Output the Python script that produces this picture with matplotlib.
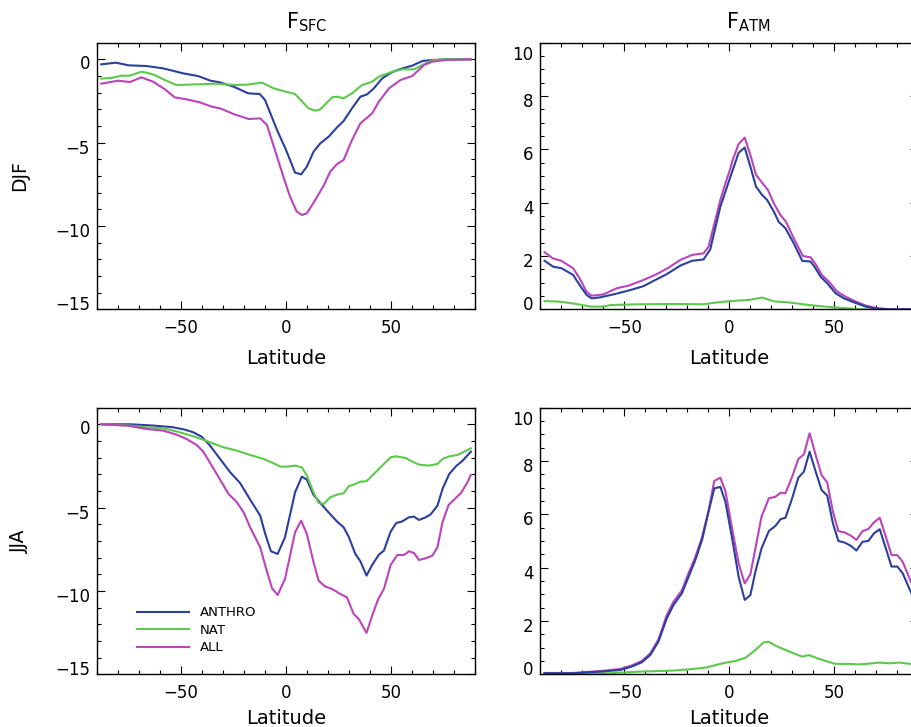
import matplotlib
matplotlib.use("Agg")
import matplotlib.pyplot as plt
import matplotlib.transforms as mtransforms
from matplotlib.ticker import MultipleLocator

plt.rcParams['font.family'] = ['DejaVu Sans']
plt.rcParams['mathtext.default'] = 'regular'

# colours of the three runs
c_anthro = '#2b3f9e'
c_nat = '#5cc94c'
c_all = '#bb44bb'

# ---- DJF, F_SFC ----
djf_sfc_anthro_lat = [-88, -81, -75, -66.5, -58.5, -49, -42, -36, -31.5, -25, -18, -12.5, -10, -4.3, 0, 4.3, 7.2, 9.9,
                      13.1, 16.3, 20.3, 24.3, 27.4, 31.4, 35.4, 38.6, 41.8, 45.8, 50.6, 55.4, 60.1, 64.9, 69.7, 76, 88]
djf_sfc_anthro = [-0.3, -0.2, -0.36, -0.4, -0.54, -0.84, -1.0, -1.28, -1.38, -1.64, -2.04, -2.08, -2.44, -4.24, -5.44,
                  -6.8, -6.9, -6.44, -5.54, -5.04, -4.64, -4.08, -3.7, -2.94, -2.24, -2.1, -1.74, -1.14, -0.76, -0.54,
                  -0.38, -0.1, -0.04, 0, 0]
djf_sfc_nat_lat = [-88, -82.5, -78.5, -74.3, -68.9, -63.3, -57.7, -52.2, -42.6, -33, -25, -18.7, -11.5, -5.9, 0.5, 4.3,
                   10.7, 13.9, 16.3, 21.9, 24.3, 27.4, 31.4, 36.2, 41, 44.2, 50.6, 55.4, 60.9, 64.9, 69.7, 76, 88]
djf_sfc_nat = [-1.16, -1.1, -0.98, -0.98, -0.74, -0.9, -1.24, -1.54, -1.5, -1.46, -1.54, -1.52, -1.4, -1.74, -1.96,
               -2.08, -2.94, -3.08, -3.0, -2.28, -2.24, -2.34, -2.04, -1.54, -1.34, -1.04, -0.74, -0.6, -0.6, -0.34,
               -0.06, 0, 0]
djf_sfc_all_lat = [-88, -80, -74.3, -68.9, -63.3, -57.7, -53, -47.4, -41, -35.4, -31.4, -25, -17.8, -12.3, -9.1, -4.3,
                   -0.5, 1.9, 5.1, 7.6, 9.9, 13.9, 17.9, 21, 24.3, 27.4, 31.4, 35.4, 41, 44.2, 49, 54.5, 60.1, 65.7,
                   69.7, 76, 88]
djf_sfc_all = [-1.46, -1.28, -1.36, -1.08, -1.34, -1.8, -2.28, -2.4, -2.58, -2.84, -2.94, -3.28, -3.58, -3.54, -3.94,
               -5.84, -7.34, -8.24, -9.14, -9.34, -9.24, -8.44, -7.58, -6.74, -6.28, -6.04, -4.84, -3.84, -3.24, -2.54,
               -1.74, -1.24, -1.0, -0.34, -0.14, -0.04, 0]

# ---- DJF, F_ATM ----
djf_atm_anthro_lat = [-88, -83.9, -79.9, -74.4, -71.3, -68, -65.6, -61.6, -55.2, -47.3, -40.9, -35.3, -29.8, -23.4,
                      -17.8, -12.3, -9.1, -4.3, -1.9, 0.5, 1.3, 4.4, 7.3, 10, 12.7, 15.6, 18, 21.2, 23.5, 26.7, 30.7,
                      34.7, 38.7, 40.5, 43.5, 46.7, 50.6, 54.6, 59.4, 65, 69.8, 76, 88]
djf_atm_anthro = [1.82, 1.6, 1.54, 1.29, 0.91, 0.54, 0.41, 0.45, 0.56, 0.72, 0.87, 1.1, 1.32, 1.64, 1.82, 1.87, 2.25,
                  3.85, 4.41, 4.97, 5.16, 5.87, 6.07, 5.35, 4.6, 4.29, 4.1, 3.66, 3.28, 3.04, 2.47, 1.82, 1.79, 1.6,
                  1.22, 0.97, 0.6, 0.41, 0.26, 0.1, 0.03, 0, 0]
djf_atm_nat_lat = [-88, -81, -74.4, -65.6, -60, -56.8, -42.6, -26.6, -12.3, -6, 0.5, 9, 15.6, 21.2, 28.3, 38, 46, 54,
                   62, 88]
djf_atm_nat = [0.31, 0.29, 0.22, 0.1, 0.1, 0.16, 0.19, 0.2, 0.19, 0.26, 0.31, 0.35, 0.44, 0.3, 0.26, 0.16, 0.1, 0.05,
               0, 0]
djf_atm_all_lat = [-88, -84, -80, -74.4, -71.3, -68, -65.6, -60, -53.6, -48, -40.9, -34.6, -29, -23.4, -17.8, -12.3,
                   -9.9, -4.3, -1.9, 0.5, 1.3, 4.4, 7.3, 10, 12.7, 15.6, 18.4, 21.2, 24.3, 27, 30.7, 35, 38.7, 41, 44,
                   47.4, 51.4, 55.4, 60, 65, 69.8, 76, 88]
djf_atm_all = [2.14, 1.91, 1.82, 1.54, 1.16, 0.66, 0.51, 0.56, 0.79, 0.89, 1.1, 1.32, 1.56, 1.85, 2.04, 2.1, 2.35, 4.1,
               4.72, 5.29, 5.54, 6.2, 6.44, 5.79, 5.04, 4.75, 4.47, 3.97, 3.54, 3.28, 2.66, 2.0, 1.95, 1.7, 1.29,
               1.04, 0.66, 0.47, 0.3, 0.14, 0.05, 0, 0]

# ---- JJA, F_SFC ----
jja_sfc_anthro_lat = [-88, -74, -62.7, -53.7, -48.2, -44.2, -40.2, -36.2, -31.4, -26.6, -21.9, -17.1, -12.3, -9.9,
                      -7.2, -4, -0.5, 4.3, 7.5, 9.9, 13.1, 16.3, 19.5, 24.3, 27.4, 29.8, 33, 35.4, 38.3, 41, 44.2,
                      46.6, 49.8, 52.5, 55.1, 58.5, 60.9, 63.3, 66.5, 68.9, 72.1, 74.5, 77.7, 80.9, 84.1, 88]
jja_sfc_anthro = [0, 0, -0.08, -0.18, -0.32, -0.48, -0.74, -1.28, -2.08, -2.88, -3.52, -4.52, -5.48, -6.58, -7.62,
                  -7.78, -6.78, -4.08, -3.14, -3.32, -4.24, -4.72, -5.18, -5.84, -6.18, -6.74, -7.78, -8.22, -9.08,
                  -8.44, -7.82, -7.58, -6.44, -5.92, -5.84, -5.58, -5.54, -5.74, -5.58, -5.4, -4.88, -3.88, -2.98,
                  -2.52, -2.18, -1.64]
jja_sfc_nat_lat = [-88, -74, -66.5, -58.5, -50.6, -42.6, -36.2, -29.8, -23.4, -17.1, -10.7, -5.9, -2.7, 0.5, 4.3, 7.5,
                   9.9, 13.1, 15.5, 17.9, 21, 24.3, 27.4, 29.8, 33, 35.4, 38.3, 42.6, 46.6, 49.8, 52.2, 57, 60.1,
                   63.3, 68.1, 72.1, 74.5, 77.7, 81.7, 84.9, 88]
jja_sfc_nat = [0, -0.08, -0.18, -0.24, -0.48, -0.78, -1.08, -1.38, -1.58, -1.84, -2.08, -2.34, -2.54, -2.54, -2.48,
               -2.58, -3.08, -4.08, -4.72, -4.78, -4.38, -4.22, -4.14, -3.72, -3.58, -3.44, -3.42, -2.88, -2.38,
               -1.98, -1.92, -2.02, -2.24, -2.42, -2.48, -2.38, -2.08, -1.92, -1.84, -1.64, -1.44]
jja_sfc_all_lat = [-88, -75.5, -66.5, -58.5, -52.2, -47.4, -42.6, -39.4, -35.4, -31.4, -27.4, -23.4, -20.2, -17.1,
                   -12.3, -9.9, -6.7, -4, -0.5, 4.3, 7.2, 9.9, 13.1, 15.5, 18.7, 21.9, 25.8, 29, 32.2, 34.6, 38.3, 41,
                   43.9, 46.6, 49.8, 53, 56.2, 58.5, 60.9, 63.3, 66.5, 69.7, 72.1, 74.5, 77.4, 80, 83.3, 86.4, 88]
jja_sfc_all = [0, -0.08, -0.28, -0.38, -0.62, -0.88, -1.24, -1.64, -2.48, -3.32, -4.18, -4.68, -5.28, -6.18, -7.38,
               -8.48, -9.84, -10.24, -9.28, -6.48, -5.78, -6.58, -8.28, -9.38, -9.74, -9.88, -10.18, -10.38, -11.38,
               -11.68, -12.52, -11.48, -10.48, -9.88, -8.44, -7.84, -7.84, -7.62, -7.72, -8.14, -8.04, -7.88, -7.38,
               -5.88, -4.84, -4.52, -4.12, -3.48, -3.04]

# ---- JJA, F_ATM ----
jja_atm_lat = [-88, -74.4, -61.6, -52, -46.5, -41.7, -37.7, -33.8, -29.8, -26.6, -22.6, -19.4, -16.2, -13, -9.9, -7.2,
               -4.3, -1.9, 1.3, 4.4, 7.3, 10, 12.4, 15.3, 18.8, 22, 24.4, 26.7, 29.9, 32.8, 35.5, 38.2, 41.1, 43.9,
               46.6, 49.3, 51.9, 54.9, 57.8, 60.5, 63.4, 66.2, 68.9, 71.6, 74.5, 77.2, 80, 82.5, 87.4, 88]
jja_atm_anthro = [0.04, 0.04, 0.1, 0.16, 0.29, 0.45, 0.72, 1.22, 2.1, 2.6, 3.04, 3.66, 4.29, 5.04, 6.1, 6.97, 7.03,
                  6.47, 5.1, 3.66, 2.79, 2.97, 3.85, 4.72, 5.37, 5.57, 5.82, 5.87, 6.6, 7.37, 7.6, 8.35, 7.6, 6.91,
                  6.7, 5.66, 5.0, 4.94, 4.82, 4.64, 4.97, 5.0, 5.29, 5.44, 4.72, 4.04, 4.04, 3.79, 2.91, 2.8]
jja_atm_all = [0.05, 0.05, 0.12, 0.2, 0.33, 0.5, 0.78, 1.3, 2.22, 2.72, 3.15, 3.8, 4.4, 5.15, 6.14, 7.25, 7.37, 6.87,
               5.47, 4.16, 3.41, 3.75, 4.72, 5.91, 6.6, 6.66, 6.81, 6.79, 7.41, 8.07, 8.25, 9.04, 8.22, 7.47, 7.19,
               6.1, 5.37, 5.32, 5.2, 5.04, 5.37, 5.45, 5.7, 5.87, 5.16, 4.47, 4.47, 4.22, 3.29, 3.2]
jja_atm_nat_lat = [-88, -57, -42.6, -26.6, -18.6, -10.7, -4.3, 0.5, 2.9, 7.7, 12.4, 16.3, 18.8, 22, 25.9, 29.9, 34.7,
                   37.9, 41.9, 45.8, 50.6, 57, 61.8, 66.6, 71.4, 76.2, 81, 88]
jja_atm_nat = [0.04, 0.04, 0.1, 0.14, 0.19, 0.26, 0.39, 0.47, 0.5, 0.62, 0.91, 1.2, 1.22, 1.07, 0.94, 0.81, 0.66,
               0.72, 0.6, 0.5, 0.39, 0.39, 0.37, 0.4, 0.44, 0.41, 0.44, 0.37]

fig = plt.figure(figsize=(9.12, 7.27), dpi=100)

# axes boxes (the right column runs a little past the figure edge, like the original)
left_x, right_x, w = 0.1064, 0.5925, 0.4145
top_y, bot_y, h = 0.5745, 0.0725, 0.3668
ax_ds = fig.add_axes([left_x, top_y, w, h])
ax_da = fig.add_axes([right_x, top_y, w, h])
ax_js = fig.add_axes([left_x, bot_y, w, h])
ax_ja = fig.add_axes([right_x, bot_y, w, h])

lw = 1.5
ax_ds.plot(djf_sfc_anthro_lat, djf_sfc_anthro, color=c_anthro, lw=lw)
ax_ds.plot(djf_sfc_nat_lat, djf_sfc_nat, color=c_nat, lw=lw)
ax_ds.plot(djf_sfc_all_lat, djf_sfc_all, color=c_all, lw=lw)

ax_da.plot(djf_atm_nat_lat, djf_atm_nat, color=c_nat, lw=lw)
ax_da.plot(djf_atm_all_lat, djf_atm_all, color=c_all, lw=lw)
ax_da.plot(djf_atm_anthro_lat, djf_atm_anthro, color=c_anthro, lw=lw)

ax_js.plot(jja_sfc_anthro_lat, jja_sfc_anthro, color=c_anthro, lw=lw, label='ANTHRO')
ax_js.plot(jja_sfc_nat_lat, jja_sfc_nat, color=c_nat, lw=lw, label='NAT')
ax_js.plot(jja_sfc_all_lat, jja_sfc_all, color=c_all, lw=lw, label='ALL')

ax_ja.plot(jja_atm_nat_lat, jja_atm_nat, color=c_nat, lw=lw)
ax_ja.plot(jja_atm_lat, jja_atm_all, color=c_all, lw=lw)
ax_ja.plot(jja_atm_lat, jja_atm_anthro, color=c_anthro, lw=lw)


def shift_labels(ax, first, last, other):
    # IDL style: tick labels sit a bit below their ticks, end labels pulled inside
    labs = ax.yaxis.get_major_ticks()
    for i, t in enumerate(labs):
        dy = other
        if i == 0:
            dy = first
        elif i == len(labs) - 1:
            dy = last
        off = mtransforms.ScaledTranslation(0, dy / 100.0, fig.dpi_scale_trans)
        t.label1.set_transform(t.label1.get_transform() + off)


for ax in [ax_ds, ax_da, ax_js, ax_ja]:
    ax.set_xlim(-90, 90)
    ax.xaxis.set_major_locator(MultipleLocator(50))
    ax.xaxis.set_minor_locator(MultipleLocator(10))
    ax.tick_params(which='both', direction='in', top=True, right=True, width=0.8, labelsize=12)
    ax.tick_params(which='major', length=5.5)
    ax.tick_params(which='minor', length=3)
    ax.tick_params(axis='x', pad=7)
    ax.tick_params(axis='y', pad=5)
    for s in ax.spines.values():
        s.set_linewidth(1.0)

for ax in [ax_ds, ax_js]:
    ax.set_ylim(-15, 1)
    ax.set_yticks([-15, -10, -5, 0])
    ax.yaxis.set_minor_locator(MultipleLocator(1))
    shift_labels(ax, 6.5, -2.5, -4)

for ax in [ax_da, ax_ja]:
    ax.set_ylim(0, 10)
    ax.set_yticks([0, 2, 4, 6, 8, 10])
    ax.yaxis.set_minor_locator(MultipleLocator(0.5))
    shift_labels(ax, 6.3, -10.5, -4)

ax_ds.set_ylabel('DJF', fontsize=13.5)
ax_js.set_ylabel('JJA', fontsize=13.5)
for ax in [ax_ds, ax_js]:
    ax.yaxis.set_label_coords(-0.206, 0.5)
    ax.yaxis.label.set_va('center')

for ax, yl in [(ax_ds, -0.186), (ax_da, -0.186), (ax_js, -0.166), (ax_ja, -0.166)]:
    ax.set_xlabel('Latitude', fontsize=14)
    ax.xaxis.set_label_coords(0.5, yl)
    ax.xaxis.label.set_va('center')

ax_ds.text(0.5, 1.055, r'F$_{SFC}$', transform=ax_ds.transAxes, ha='left', va='baseline', fontsize=15)
ax_da.text(0.49, 1.055, r'F$_{ATM}$', transform=ax_da.transAxes, ha='left', va='baseline', fontsize=15)

ax_js.legend(loc='upper left', bbox_to_anchor=(0.08, 0.29), frameon=False, fontsize=9.5,
             handlelength=4.0, handletextpad=0.8, labelspacing=0.35, borderpad=0.2)

fig.savefig('out.png', dpi=100)
